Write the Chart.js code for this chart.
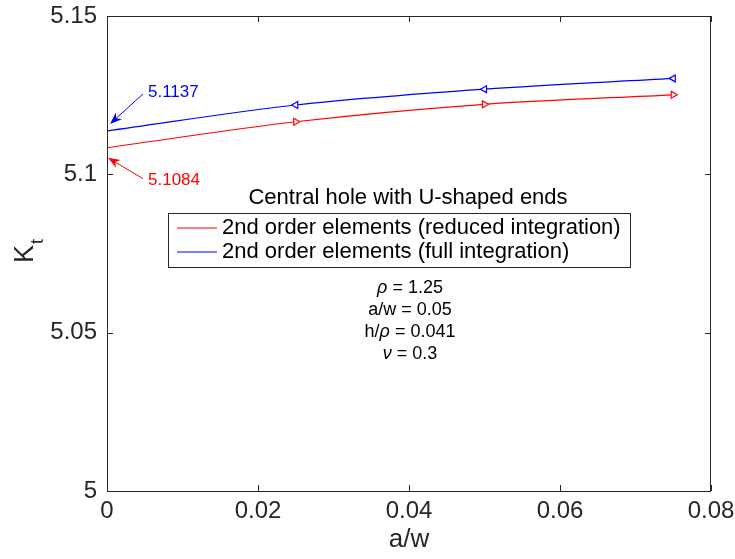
<!DOCTYPE html>
<html>
<head>
<meta charset="utf-8">
<title>Kt vs a/w</title>
<script src="https://cdn.jsdelivr.net/npm/chart.js@4.4.1/dist/chart.umd.min.js"></script>
<style>
  html, body { margin: 0; padding: 0; background: #fff; }
  #wrap { width: 735px; height: 559px; }
</style>
</head>
<body>
<div id="wrap"><canvas id="kt-chart"></canvas></div>
<script>
// a/w sample points and Kt results for both element types
const aw = [0, 0.025, 0.05, 0.075];
const ktReduced = [5.1084, 5.1166, 5.1221, 5.1251];
const ktFull = [5.1137, 5.1219, 5.1269, 5.1303];

const xTicks = [0, 0.02, 0.04, 0.06, 0.08];
const xTickLabels = ['0', '0.02', '0.04', '0.06', '0.08'];
const yTicks = [5, 5.05, 5.1, 5.15];
const yTickLabels = ['5', '5.05', '5.1', '5.15'];

const seriesNames = [
  '2nd order elements (reduced integration)',
  '2nd order elements (full integration)'
];
const caseTitle = 'Central hole with U-shaped ends';
// [text, italic] runs for each parameter line
const paramLines = [
  [['ρ', true], [' = 1.25', false]],
  [['a/w = 0.05', false]],
  [['h/', false], ['ρ', true], [' = 0.041', false]],
  [['ν', true], [' = 0.3', false]]
];

const FONT = '"Liberation Sans", Arial, Helvetica, sans-serif';
const AXIS = '#262626';
const RED = '#ff0000';
const BLUE = '#0000ff';

function drawRuns(ctx, runs, cx, y, size) {
  const parts = runs.map(([t, it]) => {
    ctx.font = (it ? 'italic ' : '') + size + 'px ' + FONT;
    return { t, it, w: ctx.measureText(t).width };
  });
  let x = cx - parts.reduce((s, p) => s + p.w, 0) / 2;
  parts.forEach(p => {
    ctx.font = (p.it ? 'italic ' : '') + size + 'px ' + FONT;
    ctx.fillText(p.t, x, y);
    x += p.w;
  });
}

function arrow(ctx, x0, y0, x1, y1, color) {
  const a = Math.atan2(y1 - y0, x1 - x0);
  const c = Math.cos(a), s = Math.sin(a);
  const len = 12, half = 4.5;
  ctx.strokeStyle = color;
  ctx.fillStyle = color;
  ctx.lineWidth = 1;
  ctx.beginPath();
  ctx.moveTo(x0, y0);
  ctx.lineTo(x1 - c * len * 0.6, y1 - s * len * 0.6);
  ctx.stroke();
  ctx.beginPath();
  ctx.moveTo(x1, y1);
  ctx.lineTo(x1 - c * len - s * half, y1 - s * len + c * half);
  ctx.lineTo(x1 - c * len * 0.7, y1 - s * len * 0.7);
  ctx.lineTo(x1 - c * len + s * half, y1 - s * len - c * half);
  ctx.closePath();
  ctx.fill();
}

// frame, inward ticks, annotations, legend and text block
const decorations = {
  id: 'decorations',
  afterDraw(chart) {
    const ctx = chart.ctx;
    const { left, right, top, bottom } = chart.chartArea;
    const xs = chart.scales.x, ys = chart.scales.y;
    const cx = (left + right) / 2;
    ctx.save();

    // axes box
    ctx.strokeStyle = AXIS;
    ctx.lineWidth = 1;
    ctx.strokeRect(left + 0.5, top + 0.5, right - left - 1, bottom - top);
    ctx.beginPath();
    xTicks.forEach(v => {
      const px = Math.round(xs.getPixelForValue(v)) + 0.5;
      ctx.moveTo(px, bottom); ctx.lineTo(px, bottom - 6);
      ctx.moveTo(px, top); ctx.lineTo(px, top + 6);
    });
    yTicks.forEach(v => {
      const py = Math.round(ys.getPixelForValue(v)) + 0.5;
      ctx.moveTo(left, py); ctx.lineTo(left + 6, py);
      ctx.moveTo(right, py); ctx.lineTo(right - 6, py);
    });
    ctx.stroke();

    // axis labels
    ctx.fillStyle = AXIS;
    ctx.textAlign = 'center';
    ctx.textBaseline = 'middle';
    ctx.font = '26px ' + FONT;
    ctx.fillText('a/w', cx, 540);

    ctx.save();
    ctx.translate(33, 263);
    ctx.rotate(-Math.PI / 2);
    ctx.textAlign = 'left';
    ctx.textBaseline = 'alphabetic';
    ctx.font = '27px ' + FONT;
    ctx.fillText('K', 0, 0);
    const kw = ctx.measureText('K').width;
    ctx.font = '18px ' + FONT;
    ctx.fillText('t', kw + 1, 10);
    ctx.restore();

    // value callouts at a/w = 0
    const x0 = xs.getPixelForValue(aw[0]);
    const yb = ys.getPixelForValue(ktFull[0]);
    const yr = ys.getPixelForValue(ktReduced[0]);
    arrow(ctx, x0 + 36, yb - 37, x0 + 3, yb - 7, BLUE);
    arrow(ctx, x0 + 36, yr + 31, x0 + 1, yr + 10, RED);
    ctx.textAlign = 'left';
    ctx.font = '17px ' + FONT;
    ctx.fillStyle = BLUE;
    ctx.fillText(ktFull[0].toFixed(4), x0 + 41, yb - 39);
    ctx.fillStyle = RED;
    ctx.fillText(ktReduced[0].toFixed(4), x0 + 41, yr + 33);

    // case title
    ctx.fillStyle = '#000';
    ctx.textAlign = 'center';
    ctx.font = '22px ' + FONT;
    ctx.fillText(caseTitle, cx - 1, 198);

    // legend box
    const lx = 168, ly = 213, lw = 462, lh = 54;
    ctx.fillStyle = '#fff';
    ctx.fillRect(lx, ly, lw, lh);
    ctx.strokeStyle = AXIS;
    ctx.strokeRect(lx + 0.5, ly + 0.5, lw, lh);
    chart.data.datasets.forEach((ds, i) => {
      const ry = ly + 15 + i * 24;
      ctx.strokeStyle = ds.borderColor;
      ctx.lineWidth = 1.2;
      ctx.beginPath();
      ctx.moveTo(lx + 9, ry); ctx.lineTo(lx + 49, ry);
      ctx.stroke();
      ctx.fillStyle = '#000';
      ctx.textAlign = 'left';
      ctx.font = '22px ' + FONT;
      ctx.fillText(ds.label, lx + 54, ry);
    });

    // parameters
    ctx.fillStyle = '#000';
    ctx.textAlign = 'left';
    paramLines.forEach((runs, i) => drawRuns(ctx, runs, cx + 1, 288 + i * 22, 18));

    ctx.restore();
  }
};

const toPoints = ys => aw.map((x, i) => ({ x, y: ys[i] }));
const markerRadius = aw.map((x, i) => (i === 0 ? 0 : 4));

new Chart(document.getElementById('kt-chart'), {
  type: 'line',
  data: {
    datasets: [
      {
        label: seriesNames[0],
        data: toPoints(ktReduced),
        borderColor: RED,
        backgroundColor: '#fff',
        borderWidth: 1.2,
        cubicInterpolationMode: 'monotone',
        pointStyle: 'triangle',
        pointRotation: 90,
        pointRadius: markerRadius,
        pointBorderWidth: 1.2
      },
      {
        label: seriesNames[1],
        data: toPoints(ktFull),
        borderColor: BLUE,
        backgroundColor: '#fff',
        borderWidth: 1.2,
        cubicInterpolationMode: 'monotone',
        pointStyle: 'triangle',
        pointRotation: -90,
        pointRadius: markerRadius,
        pointBorderWidth: 1.2
      }
    ]
  },
  options: {
    responsive: true,
    maintainAspectRatio: false,
    animation: false,
    layout: { padding: { top: 16, right: 24, left: 0, bottom: 0 } },
    plugins: { legend: { display: false }, tooltip: { enabled: false } },
    scales: {
      x: {
        type: 'linear',
        min: 0,
        max: 0.08,
        afterBuildTicks: s => { s.ticks = xTicks.map(value => ({ value })); },
        afterFit: s => { s.height = 68; s.paddingLeft = 0; s.paddingRight = 0; },
        grid: { display: false, drawTicks: false },
        border: { display: false },
        ticks: {
          padding: 6,
          color: AXIS,
          font: { family: FONT, size: 24 },
          maxRotation: 0,
          callback: (v, i) => xTickLabels[i]
        }
      },
      y: {
        min: 5,
        max: 5.15,
        afterBuildTicks: s => { s.ticks = yTicks.map(value => ({ value })); },
        afterFit: s => { s.width = 107; s.paddingTop = 0; s.paddingBottom = 0; },
        grid: { display: false, drawTicks: false },
        border: { display: false },
        ticks: {
          padding: 10,
          color: AXIS,
          font: { family: FONT, size: 24 },
          callback: (v, i) => yTickLabels[i]
        }
      }
    }
  },
  plugins: [decorations]
});
</script>
</body>
</html>
